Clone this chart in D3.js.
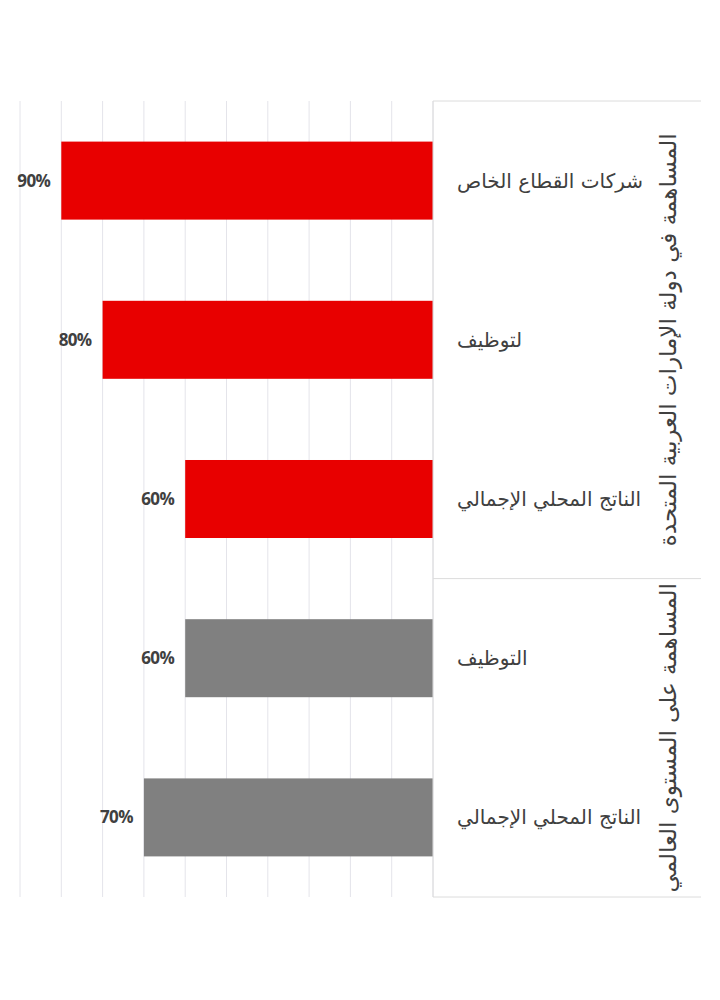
<!DOCTYPE html>
<html>
<head>
<meta charset="utf-8">
<script src="https://cdn.jsdelivr.net/npm/d3@7"></script>
<style>
  body { margin: 0; background: #fff; }
</style>
</head>
<body>
<div id="chart"></div>
<script>
// البيانات
var groups = ["المساهمة في دولة الإمارات العربية المتحدة", "المساهمة على المستوى العالمي"];
var categories = ["شركات القطاع الخاص", "لتوظيف", "الناتج المحلي الإجمالي", "التوظيف", "الناتج المحلي الإجمالي"];
var groupOf = [0, 0, 0, 1, 1];
var values = [90, 80, 60, 60, 70];
var xTicks = [0, 10, 20, 30, 40, 50, 60, 70, 80, 90, 100];
var colors = ["#e80000", "#808080"];

var width = 720;
var height = 1000;
var top_plot = 101;
var bottom_plot = 897;
var x0 = 433;
var x100 = 20;
var right_box = 701;

var svg = d3.select("#chart")
    .append("svg")
    .attr("width", width)
    .attr("height", height);

// スケール
var xScale = d3.scaleLinear()
    .domain([0, 100])
    .range([x0, x100]);

var yScale = d3.scaleBand()
    .domain(d3.range(categories.length))
    .range([top_plot, bottom_plot])
    .paddingInner(0.51)
    .paddingOuter(0.255);

// グリッド
svg.append("g")
    .selectAll("line")
    .data(xTicks)
    .enter()
    .append("line")
    .attr("x1", function (d) { return xScale(d); })
    .attr("x2", function (d) { return xScale(d); })
    .attr("y1", top_plot)
    .attr("y2", bottom_plot)
    .attr("stroke", "#e4e4ea")
    .attr("stroke-width", 1);

// 棒
svg.append("g")
    .selectAll("rect")
    .data(values)
    .enter()
    .append("rect")
    .attr("x", function (d) { return xScale(d); })
    .attr("y", function (d, i) { return yScale(i); })
    .attr("width", function (d) { return xScale(0) - xScale(d); })
    .attr("height", yScale.bandwidth())
    .attr("fill", function (d, i) { return colors[groupOf[i]]; });

// 値ラベル
svg.append("g")
    .selectAll("text")
    .data(values)
    .enter()
    .append("text")
    .text(function (d) { return d + "%"; })
    .attr("x", function (d) { return xScale(d) - 11; })
    .attr("y", function (d, i) { return yScale(i) + yScale.bandwidth() / 2 + 6; })
    .attr("text-anchor", "end")
    .style("font-family", "'Open Sans', sans-serif")
    .style("font-weight", "bold")
    .style("font-size", "17px")
    .style("letter-spacing", "-0.6px")
    .attr("fill", "#404040");

// グループ境界: 棒と棒の中間
var groupEdges = [top_plot];
for (var g = 1; g < groups.length; g++) {
    var lastIdx = groupOf.lastIndexOf(g - 1);
    groupEdges.push((yScale(lastIdx) + yScale.bandwidth() + yScale(lastIdx + 1)) / 2);
}
groupEdges.push(bottom_plot);

var frame = svg.append("g");
frame.append("line")
    .attr("x1", x0).attr("x2", x0)
    .attr("y1", top_plot).attr("y2", bottom_plot)
    .attr("stroke", "#dcdcdc");
frame.selectAll("line.h")
    .data(groupEdges)
    .enter()
    .append("line")
    .attr("class", "h")
    .attr("x1", x0).attr("x2", right_box)
    .attr("y1", function (d) { return d; })
    .attr("y2", function (d) { return d; })
    .attr("stroke", "#dcdcdc");

// カテゴリラベル
svg.append("g")
    .selectAll("text")
    .data(categories)
    .enter()
    .append("text")
    .text(function (d) { return d; })
    .attr("x", 457)
    .attr("y", function (d, i) { return yScale(i) + yScale.bandwidth() / 2 + 7; })
    .attr("text-anchor", "start")
    .style("font-family", "'DejaVu Sans', sans-serif")
    .style("font-size", "20px")
    .attr("fill", "#404040");

// グループラベル
svg.append("g")
    .selectAll("text")
    .data(groups)
    .enter()
    .append("text")
    .text(function (d) { return d; })
    .attr("transform", function (d, g) {
        var cy = (groupEdges[g] + groupEdges[g + 1]) / 2;
        return "translate(676," + cy + ") rotate(-90)";
    })
    .attr("text-anchor", "middle")
    .style("font-family", "'DejaVu Sans', sans-serif")
    .style("font-size", "23px")
    .attr("fill", "#404040");
</script>
</body>
</html>
